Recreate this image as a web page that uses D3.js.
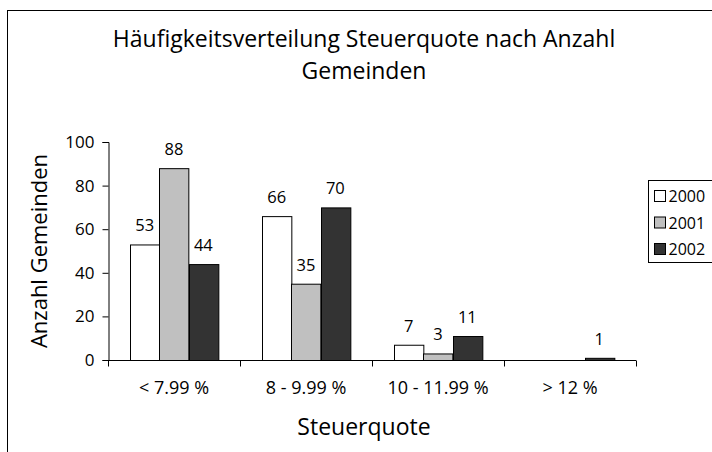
<!DOCTYPE html>
<html>
<head>
<meta charset="utf-8">
<script src="https://cdn.jsdelivr.net/npm/d3@7"></script>
<style>
  body { margin: 0; background: #fff; }
  text { font-family: "Open Sans", "Noto Sans", sans-serif; fill: #000; }
</style>
</head>
<body>
<div class="chart"></div>
<script>
// data
const categories = ["< 7.99 %", "8 - 9.99 %", "10 - 11.99 %", "> 12 %"];
const years = ["2000", "2001", "2002"];
const values2000 = [53, 66, 7, 0];
const values2001 = [88, 35, 3, 0];
const values2002 = [44, 70, 11, 1];
const yTicks = [0, 20, 40, 60, 80, 100];

const seriesValues = [values2000, values2001, values2002];
const colors = ["#ffffff", "#c0c0c0", "#333333"];

const width = 712, height = 452;
let margin = {top: 142, right: 76, bottom: 92, left: 108};

const svg = d3.select(".chart")
  .append("svg")
  .attr("width", width)
  .attr("height", height);

// outer frame (runs off the right and bottom edge)
svg.append("rect")
  .attr("x", 7.5).attr("y", 10.5)
  .attr("width", 720).attr("height", 460)
  .attr("fill", "none")
  .attr("stroke", "#000")
  .attr("stroke-width", 1);

// title
const title = svg.append("text")
  .attr("text-anchor", "middle")
  .attr("font-size", 23);
title.append("tspan").attr("x", 364).attr("y", 47).text("Häufigkeitsverteilung Steuerquote nach Anzahl");
title.append("tspan").attr("x", 364).attr("y", 79).text("Gemeinden");

const x0 = d3.scaleBand()
  .domain(categories)
  .range([margin.left, width - margin.right])
  .paddingInner(0);

const innerPad = x0.bandwidth() / 6;
const x1 = d3.scaleBand()
  .domain(years)
  .range([innerPad, x0.bandwidth() - innerPad]);

const y = d3.scaleLinear()
  .domain([0, 100])
  .range([height - margin.bottom, margin.top]);

// bars
const rows = categories.map((c, i) => ({cat: c, vals: years.map((yr, j) => ({year: yr, j: j, v: seriesValues[j][i]}))}));

const groups = svg.append("g").selectAll("g")
  .data(rows)
  .join("g")
  .attr("transform", d => `translate(${x0(d.cat)},0)`);

groups.selectAll("rect")
  .data(d => d.vals.filter(e => e.v > 0))
  .join("rect")
  .attr("x", d => Math.round(x1(d.year)) + 0.5)
  .attr("y", d => y(d.v) + 0.5)
  .attr("width", x1.bandwidth())
  .attr("height", d => y(0) - y(d.v))
  .attr("fill", d => colors[d.j])
  .attr("stroke", "#000")
  .attr("stroke-width", 1);

groups.selectAll("text")
  .data(d => d.vals.filter(e => e.v > 0))
  .join("text")
  .attr("x", d => x1(d.year) + x1.bandwidth() / 2)
  .attr("y", d => y(d.v) - 13)
  .attr("text-anchor", "middle")
  .attr("font-size", 16.5)
  .text(d => d.v);

// y axis
const yAxis = svg.append("g")
  .attr("transform", `translate(${margin.left + 0.5},0)`)
  .call(d3.axisLeft(y).tickValues(yTicks).tickSize(6).tickPadding(8));
yAxis.selectAll("text").attr("font-size", 17).attr("font-family", "Open Sans");
yAxis.selectAll("line, path").attr("stroke", "#000");

// x axis
const xAxis = svg.append("g")
  .attr("transform", `translate(0,${y(0) + 0.5})`)
  .call(d3.axisBottom(x0).tickSize(0).tickPadding(21));
xAxis.select(".domain").attr("d", `M${margin.left},0H${width - margin.right}`).attr("stroke", "#000");
xAxis.selectAll("text").attr("font-size", 18).attr("font-family", "Open Sans");
xAxis.selectAll(".sep")
  .data(d3.range(categories.length + 1))
  .join("line")
  .attr("class", "sep")
  .attr("x1", i => Math.round(margin.left + i * x0.bandwidth()) + 0.5)
  .attr("x2", i => Math.round(margin.left + i * x0.bandwidth()) + 0.5)
  .attr("y1", 0).attr("y2", 6)
  .attr("stroke", "#000");

// axis titles
svg.append("text")
  .attr("text-anchor", "middle")
  .attr("font-size", 22)
  .attr("transform", `translate(47,251) rotate(-90)`)
  .text("Anzahl Gemeinden");

svg.append("text")
  .attr("x", 364).attr("y", 435)
  .attr("text-anchor", "middle")
  .attr("font-size", 23)
  .text("Steuerquote");

// legend
const legend = svg.append("g").attr("transform", "translate(648.5,180.5)");
legend.append("rect")
  .attr("width", 80).attr("height", 82)
  .attr("fill", "#fff").attr("stroke", "#000");
const li = legend.selectAll("g")
  .data(years)
  .join("g")
  .attr("transform", (d, i) => `translate(6,${16 + i * 26.5})`);
li.append("rect")
  .attr("x", 0).attr("y", -6)
  .attr("width", 11).attr("height", 11)
  .attr("fill", (d, i) => colors[i])
  .attr("stroke", "#000");
li.append("text")
  .attr("x", 14).attr("y", 0)
  .attr("dy", "0.35em")
  .attr("font-size", 16)
  .text(d => d);
</script>
</body>
</html>
